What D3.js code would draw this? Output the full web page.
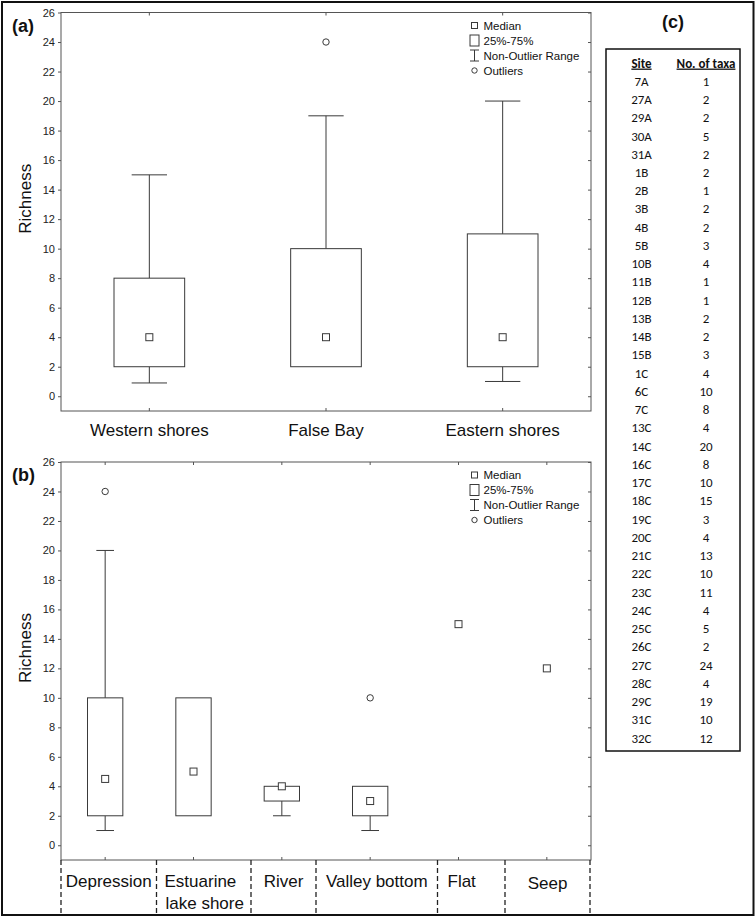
<!DOCTYPE html>
<html><head><meta charset="utf-8">
<script src="https://cdn.jsdelivr.net/npm/d3@7"></script>
<style>body{margin:0;background:#fff}svg{display:block}</style>
</head><body>
<script>
// ---------- data ----------
const groupsA = ["Western shores", "False Bay", "Eastern shores"];
const medA = [4, 4, 4];
const q1A = [2, 2, 2];
const q3A = [8, 10, 11];
const loA = [0.9, 2, 1];
const hiA = [15, 19, 20];
const outA = [[], [24], []];

const groupsB = ["Depression", "Estuarine lake shore", "River", "Valley bottom", "Flat", "Seep"];
const labelLinesB = [["Depression"], ["Estuarine", "lake shore"], ["River"], ["Valley bottom"], ["Flat"], ["Seep"]];
const medB = [4.5, 5, 4, 3, 15, 12];
const q1B = [2, 2, 3, 2, null, null];
const q3B = [10, 10, 4, 4, null, null];
const loB = [1, 2, 2, 1, null, null];
const hiB = [20, 10, 4, 4, null, null];
const outB = [[24], [], [], [10], [], []];

const yTicks = d3.range(0, 27, 2);

const sites = ["7A","27A","29A","30A","31A","1B","2B","3B","4B","5B","10B","11B","12B","13B","14B","15B",
  "1C","6C","7C","13C","14C","16C","17C","18C","19C","20C","21C","22C","23C","24C","25C","26C","27C","28C","29C","31C","32C"];
const taxa = [1,2,2,5,2,2,1,2,2,3,4,1,1,2,2,3,4,10,8,4,20,8,10,15,3,4,13,10,11,4,5,2,24,4,19,10,12];

const legendItems = ["Median", "25%-75%", "Non-Outlier Range", "Outliers"];

// ---------- drawing ----------
const W = 756, H = 918;
const svg = d3.select("body").append("svg").attr("width", W).attr("height", H);
const FONT = "'Liberation Sans', Arial, sans-serif";
const STROKE = "#3a3a3a";

svg.append("rect").attr("x", 2).attr("y", 2).attr("width", W - 4.5).attr("height", H - 5)
  .attr("fill", "none").attr("stroke", "#111").attr("stroke-width", 2);

function panel(opt) {
  const {top, bottom, left, right, groups, med, q1, q3, lo, hi, outs, tag} = opt;
  const g = svg.append("g");
  const x = d3.scaleBand().domain(groups).range([left, right]).padding(0);
  const y = d3.scaleLinear().domain([-1, 26]).range([bottom, top]);
  const bw = x.bandwidth() * 0.4;

  g.append("rect").attr("x", left).attr("y", top).attr("width", right - left).attr("height", bottom - top)
    .attr("fill", "none").attr("stroke", "#555").attr("stroke-width", 1);

  const ax = g.append("g").attr("transform", `translate(${left},0)`)
    .call(d3.axisLeft(y).tickValues(yTicks).tickSize(3).tickPadding(3).tickFormat(d3.format("d")));
  ax.select(".domain").remove();
  ax.selectAll("line").attr("stroke", "#555");
  ax.selectAll("text").attr("font-family", FONT).attr("font-size", 11).attr("fill", "#222");
  const ar = g.append("g").attr("transform", `translate(${right},0)`)
    .call(d3.axisRight(y).tickValues(yTicks).tickSize(-3).tickFormat(""));
  ar.select(".domain").remove();
  ar.selectAll("line").attr("stroke", "#555");
  const at = g.append("g").attr("transform", `translate(0,${top})`)
    .call(d3.axisTop(x).tickSize(-3).tickFormat(""));
  at.select(".domain").remove(); at.selectAll("line").attr("stroke", "#555");
  const ab = g.append("g").attr("transform", `translate(0,${bottom})`)
    .call(d3.axisBottom(x).tickSize(-3).tickFormat(""));
  ab.select(".domain").remove(); ab.selectAll("line").attr("stroke", "#555");

  g.append("text").attr("transform", `translate(31,${(top + bottom) / 2 - 13}) rotate(-90)`)
    .attr("text-anchor", "middle").attr("font-family", FONT).attr("font-size", 17).attr("fill", "#111")
    .text("Richness");
  g.append("text").attr("x", 12).attr("y", top + 19).attr("font-family", FONT).attr("font-size", 18)
    .attr("font-weight", "bold").attr("fill", "#111").text(tag);

  groups.forEach((c, i) => {
    const cx = x(c) + x.bandwidth() / 2;
    if (lo[i] != null) {
      if (hi[i] > q3[i]) {
        g.append("line").attr("x1", cx).attr("x2", cx).attr("y1", y(q3[i])).attr("y2", y(hi[i])).attr("stroke", STROKE);
        g.append("line").attr("x1", cx - bw / 4).attr("x2", cx + bw / 4).attr("y1", y(hi[i])).attr("y2", y(hi[i])).attr("stroke", STROKE);
      }
      if (lo[i] < q1[i]) {
        g.append("line").attr("x1", cx).attr("x2", cx).attr("y1", y(q1[i])).attr("y2", y(lo[i])).attr("stroke", STROKE);
        g.append("line").attr("x1", cx - bw / 4).attr("x2", cx + bw / 4).attr("y1", y(lo[i])).attr("y2", y(lo[i])).attr("stroke", STROKE);
      }
      g.append("rect").attr("x", cx - bw / 2).attr("y", y(q3[i])).attr("width", bw).attr("height", y(q1[i]) - y(q3[i]))
        .attr("fill", "#fff").attr("stroke", STROKE);
    }
    g.append("rect").attr("x", cx - 3.5).attr("y", y(med[i]) - 3.5).attr("width", 7).attr("height", 7)
      .attr("fill", "#fff").attr("stroke", STROKE);
    outs[i].forEach(v => {
      g.append("circle").attr("cx", cx).attr("cy", y(v)).attr("r", 3.2).attr("fill", "#fff").attr("stroke", STROKE);
    });
  });

  const lx = 474.5, ly0 = top + 13, dy = 15;
  const lg = g.append("g");
  lg.append("rect").attr("x", lx - 3).attr("y", ly0 - 3).attr("width", 6).attr("height", 6).attr("fill", "#fff").attr("stroke", STROKE);
  lg.append("rect").attr("x", lx - 4.5).attr("y", ly0 + dy - 5.5).attr("width", 9).attr("height", 11).attr("fill", "#fff").attr("stroke", STROKE);
  const iy = ly0 + 2 * dy;
  lg.append("line").attr("x1", lx).attr("x2", lx).attr("y1", iy - 5.5).attr("y2", iy + 5.5).attr("stroke", STROKE);
  lg.append("line").attr("x1", lx - 4.5).attr("x2", lx + 4.5).attr("y1", iy - 5.5).attr("y2", iy - 5.5).attr("stroke", STROKE);
  lg.append("line").attr("x1", lx - 4.5).attr("x2", lx + 4.5).attr("y1", iy + 5.5).attr("y2", iy + 5.5).attr("stroke", STROKE);
  lg.append("circle").attr("cx", lx).attr("cy", ly0 + 3 * dy).attr("r", 2.7).attr("fill", "#fff").attr("stroke", STROKE);
  legendItems.forEach((t, k) => {
    lg.append("text").attr("x", lx + 9).attr("y", ly0 + k * dy).attr("dy", "0.35em")
      .attr("font-family", FONT).attr("font-size", 11.5).attr("fill", "#111").text(t);
  });
  return {x, y};
}

const pa = panel({top: 12.5, bottom: 411, left: 61, right: 591, groups: groupsA, med: medA, q1: q1A, q3: q3A,
  lo: loA, hi: hiA, outs: outA, tag: "(a)"});
groupsA.forEach(c => {
  svg.append("text").attr("x", pa.x(c) + pa.x.bandwidth() / 2).attr("y", 436).attr("text-anchor", "middle")
    .attr("font-family", FONT).attr("font-size", 17).attr("fill", "#111").text(c);
});

const pbTop = 462, pbBottom = 860;
const pb = panel({top: pbTop, bottom: pbBottom, left: 61, right: 591, groups: groupsB, med: medB, q1: q1B, q3: q3B,
  lo: loB, hi: hiB, outs: outB, tag: "(b)"});

// label cells under panel (b) (layout positions of cell borders)
const cellEdges = [61, 156.5, 251, 316, 437.5, 505, 590];
cellEdges.forEach(ex => {
  svg.append("line").attr("x1", ex).attr("x2", ex).attr("y1", pbBottom).attr("y2", 914)
    .attr("stroke", "#222").attr("stroke-width", 1.3).attr("stroke-dasharray", "5,3");
});
const cellAlign = ["middle", "start", "middle", "middle", "start", "middle"];
labelLinesB.forEach((lines, i) => {
  const x0 = cellEdges[i], x1 = cellEdges[i + 1];
  const anchor = cellAlign[i];
  const tx = anchor === "middle" ? (x0 + x1) / 2 : x0 + (i === 4 ? 10 : 8);
  lines.forEach((ln, k) => {
    svg.append("text").attr("x", tx + (i === 1 && k === 1 ? 1 : 0)).attr("y", 887 + k * 22 + (i === 5 ? 2 : 0))
      .attr("text-anchor", anchor).attr("font-family", FONT).attr("font-size", 17).attr("fill", "#111").text(ln);
  });
});

// table (c)
const TF = "Carlito, Lato, 'Open Sans', sans-serif";
const tL = 606, tR = 740, tT = 49, tB = 751;
svg.append("text").attr("x", (tL + tR) / 2).attr("y", 28).attr("text-anchor", "middle")
  .attr("font-family", FONT).attr("font-size", 18).attr("font-weight", "bold").attr("fill", "#111").text("(c)");
svg.append("rect").attr("x", tL).attr("y", tT).attr("width", tR - tL).attr("height", tB - tT)
  .attr("fill", "none").attr("stroke", "#111").attr("stroke-width", 1.5);
const colSite = 641.5, colTaxa = 706;
const rowY = d3.scalePoint().domain(d3.range(sites.length + 1)).range([63, 738]);
[["Site", colSite], ["No. of taxa", colTaxa]].forEach(([t, cx]) => {
  svg.append("text").attr("x", cx).attr("y", rowY(0)).attr("dy", "0.35em").attr("text-anchor", "middle")
    .attr("font-family", TF).attr("font-size", 13).attr("font-weight", "bold").attr("fill", "#111")
    .attr("text-decoration", "underline").text(t);
});
sites.forEach((s, i) => {
  svg.append("text").attr("x", colSite).attr("y", rowY(i + 1)).attr("dy", "0.35em").attr("text-anchor", "middle")
    .attr("font-family", TF).attr("font-size", 13).attr("fill", "#111").text(s);
  svg.append("text").attr("x", colTaxa).attr("y", rowY(i + 1)).attr("dy", "0.35em").attr("text-anchor", "middle")
    .attr("font-family", TF).attr("font-size", 13).attr("fill", "#111").text(taxa[i]);
});
</script>
</body></html>
